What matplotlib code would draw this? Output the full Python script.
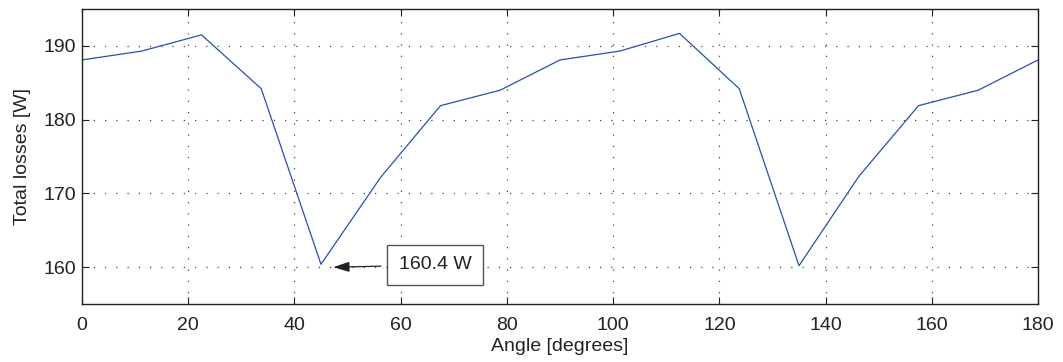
import numpy as np
import matplotlib
matplotlib.use("Agg")
import matplotlib.pyplot as plt

plt.rcParams["font.family"] = ["Liberation Sans", "DejaVu Sans"]

angle_deg = [0, 11.25, 22.5, 33.75, 45, 56.25, 67.5, 78.75, 90,
             101.25, 112.5, 123.75, 135, 146.25, 157.5, 168.75, 180]
total_losses_w = [188.1, 189.3, 191.5, 184.2, 160.4, 172.2, 181.9, 184.0, 188.1,
                  189.3, 191.7, 184.2, 160.2, 172.3, 181.9, 184.0, 188.1]

x_ticks = [0, 20, 40, 60, 80, 100, 120, 140, 160, 180]
y_ticks = [160, 170, 180, 190]

fig = plt.figure(figsize=(10.63, 3.62), dpi=100)
ax = fig.add_axes([0.0771, 0.160, 0.8994, 0.815])

ax.plot(angle_deg, total_losses_w, color="#2b4fb0", linewidth=0.9)

ax.set_xlim(0, 180)
ax.set_ylim(155, 195)
ax.set_xticks(x_ticks)
ax.set_yticks(y_ticks)
ax.tick_params(direction="in", top=True, right=True, length=5, width=0.8,
               labelsize=14, colors="#222222")
ax.tick_params(axis="x", pad=9)
ax.tick_params(axis="y", pad=4)
ax.grid(True, color="#444444", linestyle=(0, (1, 8)), linewidth=0.9)
for s in ax.spines.values():
    s.set_linewidth(1.0)
    s.set_color("#222222")

ax.set_xlabel("Angle [degrees]", fontsize=14, labelpad=3, color="#222222")
ax.set_ylabel("Total losses [W]", fontsize=14, labelpad=9, color="#222222")

# mark the minimum
i_min = int(np.argmin(total_losses_w[:9]))
ax.annotate(f"{total_losses_w[i_min]:.1f} W",
            xy=(47.3, 160.0), xytext=(66.5, 160.3),
            ha="center", va="center", fontsize=14, color="#222222",
            bbox=dict(boxstyle="square,pad=0.6", fc="white", ec="#555555", lw=1.0),
            arrowprops=dict(arrowstyle="-|>,head_length=0.7,head_width=0.22",
                            color="#222222", lw=0.9, shrinkA=4, shrinkB=0))

fig.savefig("out.png", dpi=100)
